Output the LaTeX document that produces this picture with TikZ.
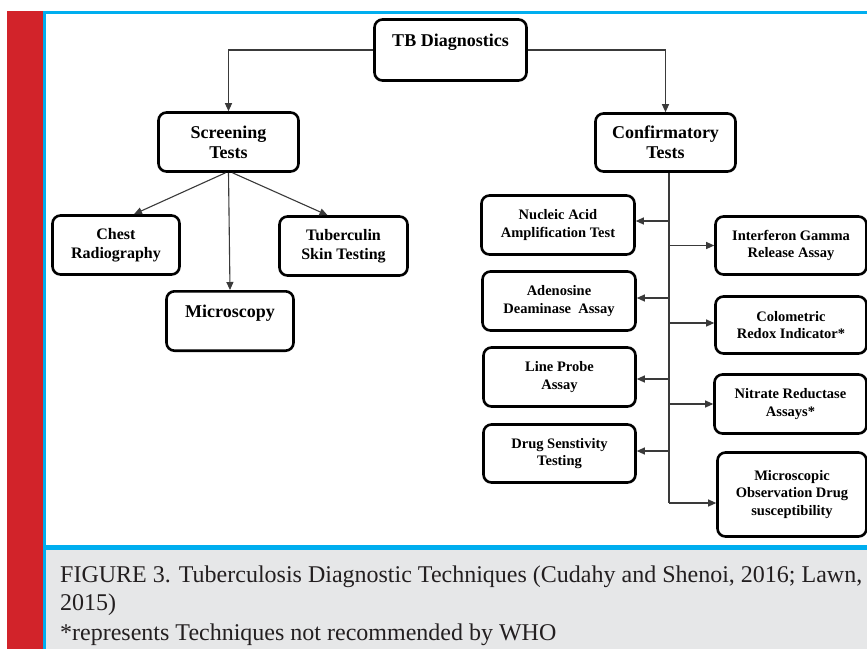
\documentclass[tikz,border=0pt]{standalone}
\usepackage{fontspec}
\setmainfont{Liberation Serif}
\usetikzlibrary{arrows.meta,calc}
\definecolor{tbred}{HTML}{D2232A}
\definecolor{tbblue}{HTML}{00AEEF}
\definecolor{capgray}{HTML}{E6E7E8}
\definecolor{captext}{HTML}{231F20}
\definecolor{linegray}{HTML}{3A3A3A}
\begin{document}
\begin{tikzpicture}[x=1pt,y=-1pt,
 tbbox/.style={draw=black, line width=2.6pt, rounded corners=8pt, fill=white, align=center, inner sep=0pt},
 headbox/.style={tbbox, font=\fontsize{18}{20}\selectfont\bfseries},
 midbox/.style={tbbox, font=\fontsize{16}{19}\selectfont\bfseries},
 smallbox/.style={tbbox, font=\fontsize{14.5}{17.5}\selectfont\bfseries},
 conn/.style={draw=linegray, line width=1.1pt},
 arr/.style={conn, -{Triangle[length=8pt,width=7pt]}},
 captxt/.style={anchor=base west, inner sep=0pt, text=captext, font=\fontsize{24}{28}\selectfont},
]
\useasboundingbox (0,0) rectangle (867,649);
% frame
\fill[white] (0,0) rectangle (867,649);
\fill[tbred] (7,11) rectangle (43,649);
\fill[capgray] (46,550) rectangle (867,649);
\fill[tbblue] (43,11) rectangle (46,649);
\fill[tbblue] (43,11) rectangle (867,14);
\fill[tbblue] (43,545) rectangle (867,550);

% nodes
\node[headbox, minimum width=152pt, text height=26.5pt, text depth=34.5pt] (tb) at (450.5,50) {TB Diagnostics};
\node[headbox, minimum width=140pt, minimum height=59pt] (scr) at (228.5,142) {Screening\\Tests};
\node[headbox, minimum width=140pt, minimum height=58pt] (conf) at (665.5,142.5) {Confirmatory\\Tests};
\node[midbox, minimum width=127pt, minimum height=59pt] (chest) at (116,245) {Chest\\Radiography};
\node[midbox, minimum width=128pt, minimum height=59pt] (tub) at (343.5,246) {Tuberculin\\Skin Testing};
\node[headbox, minimum width=127pt, text height=25.7pt, text depth=33.7pt] (micro) at (230,321) {Microscopy};

\node[smallbox, minimum width=153pt, minimum height=59pt] (naat) at (558,225) {Nucleic Acid\\Amplification Test};
\node[smallbox, minimum width=153pt, minimum height=59pt] (ada) at (559,301) {Adenosine\\Deaminase~~Assay};
\node[smallbox, minimum width=152pt, minimum height=59pt] (lpa) at (559.5,377) {Line Probe\\Assay};
\node[smallbox, minimum width=152pt, minimum height=58pt] (dst) at (559.5,453.5) {Drug Senstivity\\Testing};

\node[smallbox, minimum width=151pt, minimum height=58pt] (igra) at (791,245.5) {Interferon Gamma\\Release Assay};
\node[smallbox, minimum width=151pt, minimum height=57pt] (cri) at (791,325) {Colometric\\Redox Indicator*};
\node[smallbox, minimum width=152pt, minimum height=59pt] (nra) at (790.5,404) {Nitrate Reductase\\Assays*};
\node[smallbox, minimum width=149pt, minimum height=84pt] (mods) at (792,494.5) {Microscopic\\Observation Drug\\susceptibility};

% connectors
\draw[arr] (tb.west) -| (scr.north);
\draw[arr] (tb.east) -| (conf.north);
\draw[arr] ($(scr.south)+(-3,0)$) -- ($(chest.north)+(18,0)$);
\draw[arr] (scr.south) -- (micro.north);
\draw[arr] ($(scr.south)+(4,0)$) -- ($(tub.north)+(-16,0)$);

\coordinate (trunk) at ($(conf.south)+(3.5,0)$);
\coordinate (pnaat) at ($(naat.east)+(0,-4)$);
\coordinate (pada) at ($(ada.east)+(0,-3)$);
\coordinate (plpa) at ($(lpa.east)+(0,2)$);
\coordinate (pdst) at ($(dst.east)+(0,-2.5)$);
\coordinate (pcri) at ($(cri.west)+(0,-2)$);
\coordinate (pmods) at ($(mods.west)+(0,8.5)$);
\coordinate (trunkend) at (pmods -| trunk);
\draw[conn] (trunk) -- (trunkend);
\draw[arr] (pnaat -| trunk) -- (pnaat);
\draw[arr] (pada -| trunk) -- (pada);
\draw[arr] (plpa -| trunk) -- (plpa);
\draw[arr] (pdst -| trunk) -- (pdst);
\draw[arr] (igra.west -| trunk) -- (igra.west);
\draw[arr] (pcri -| trunk) -- (pcri);
\draw[arr] (nra.west -| trunk) -- (nra.west);
\draw[arr] (trunkend) -- (pmods);

% caption
\node[captxt] (cap1) at (60,582) {FIGURE 3. Tuberculosis Diagnostic Techniques (Cudahy and Shenoi, 2016; Lawn,};
\node[captxt] (cap2) at (60,610) {2015)};
\node[captxt] (cap3) at (60,640) {*represents Techniques not recommended by WHO};
\end{tikzpicture}
\end{document}
